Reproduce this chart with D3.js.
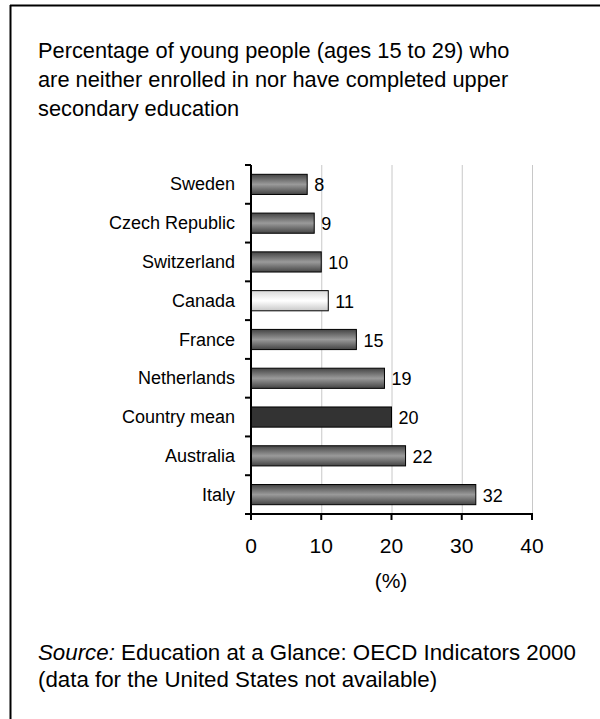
<!DOCTYPE html>
<html><head><meta charset="utf-8">
<script src="https://cdn.jsdelivr.net/npm/d3@7"></script>
<style>html,body{margin:0;padding:0;background:#fff;} svg{display:block;font-family:"Liberation Sans",Arial,sans-serif;}</style>
</head><body>
<script>
const categories = ["Sweden","Czech Republic","Switzerland","Canada","France","Netherlands","Country mean","Australia","Italy"];
const values = [8,9,10,11,15,19,20,22,32];
const kinds = ["normal","normal","normal","highlight","normal","normal","mean","normal","normal"];
const xTicks = [0,10,20,30,40];
const titleLines = ["Percentage of young people (ages 15 to 29) who","are neither enrolled in nor have completed upper","secondary education"];

const W=600,H=719;
const svg=d3.select("body").append("svg").attr("width",W).attr("height",H);
const defs=svg.append("defs");
function grad(id,stops){
  const g=defs.append("linearGradient").attr("id",id).attr("x1",0).attr("y1",0).attr("x2",0).attr("y2",1);
  stops.forEach(s=>g.append("stop").attr("offset",s[0]).attr("stop-color",s[1]));
}
grad("gNormal",[[0,"#444"],[0.5,"#9a9a9a"],[1,"#444"]]);
grad("gHigh",[[0,"#d8d8d8"],[0.5,"#ffffff"],[1,"#c8c8c8"]]);

// frame
svg.append("line").attr("x1",10.5).attr("x2",10.5).attr("y1",5).attr("y2",H).attr("stroke","#000").attr("stroke-width",2);
svg.append("line").attr("x1",10).attr("x2",W).attr("y1",5.5).attr("y2",5.5).attr("stroke","#000").attr("stroke-width",2);

svg.append("g").selectAll("text").data(titleLines).join("text")
  .attr("x",38).attr("y",(d,i)=>58+i*29).attr("font-size",21.8).attr("fill","#000").text(d=>d);

const x=d3.scaleLinear().domain([0,40]).range([251,532]);
const y=d3.scaleBand().domain(categories).range([165,514]).paddingInner(0.48).paddingOuter(0.24);

// grid
svg.append("g").selectAll("line").data(xTicks.slice(1)).join("line")
  .attr("x1",d=>x(d)+0.5).attr("x2",d=>x(d)+0.5).attr("y1",165).attr("y2",514)
  .attr("stroke","#c8c8c8").attr("stroke-width",1);

// bars
svg.append("g").selectAll("rect").data(categories).join("rect")
  .attr("x",x(0)).attr("y",(d)=>y(d))
  .attr("width",(d,i)=>x(values[i])-x(0)).attr("height",y.bandwidth())
  .attr("fill",(d,i)=>kinds[i]==="mean"?"#333":kinds[i]==="highlight"?"url(#gHigh)":"url(#gNormal)")
  .attr("stroke","#000").attr("stroke-width",1);

// value labels
svg.append("g").selectAll("text").data(categories).join("text")
  .attr("x",(d,i)=>x(values[i])+7).attr("y",d=>y(d)+y.bandwidth()/2+7)
  .attr("font-size",18).attr("fill","#000").text((d,i)=>values[i]);

// y axis
const yAxisG=svg.append("g");
yAxisG.append("line").attr("x1",251).attr("x2",251).attr("y1",165).attr("y2",515).attr("stroke","#000").attr("stroke-width",2);
const bounds=d3.range(categories.length+1).map(i=>165+i*(514-165)/categories.length);
yAxisG.selectAll("line.t").data(bounds).join("line").attr("class","t")
  .attr("x1",245).attr("x2",251).attr("y1",d=>d).attr("y2",d=>d).attr("stroke","#000").attr("stroke-width",2);
yAxisG.selectAll("text").data(categories).join("text")
  .attr("x",235).attr("y",d=>y(d)+y.bandwidth()/2+6).attr("text-anchor","end")
  .attr("font-size",18).attr("fill","#000").text(d=>d);

// x axis
const xAxisG=svg.append("g");
xAxisG.append("line").attr("x1",250).attr("x2",533).attr("y1",514).attr("y2",514).attr("stroke","#000").attr("stroke-width",2);
xAxisG.selectAll("line.t").data(xTicks).join("line").attr("class","t")
  .attr("x1",d=>x(d)).attr("x2",d=>x(d)).attr("y1",514).attr("y2",520).attr("stroke","#000").attr("stroke-width",2);
xAxisG.selectAll("text").data(xTicks).join("text")
  .attr("x",d=>x(d)).attr("y",553).attr("text-anchor","middle").attr("font-size",21).attr("fill","#000").text(d=>d);
svg.append("text").attr("x",391).attr("y",588).attr("text-anchor","middle").attr("font-size",21).text("(%)");

const src=svg.append("text").attr("x",38).attr("y",660).attr("font-size",22.3);
src.append("tspan").attr("font-style","italic").text("Source:");
src.append("tspan").text(" Education at a Glance: OECD Indicators 2000");
svg.append("text").attr("x",38).attr("y",687).attr("font-size",22.3).text("(data for the United States not available)");
</script>
</body></html>
